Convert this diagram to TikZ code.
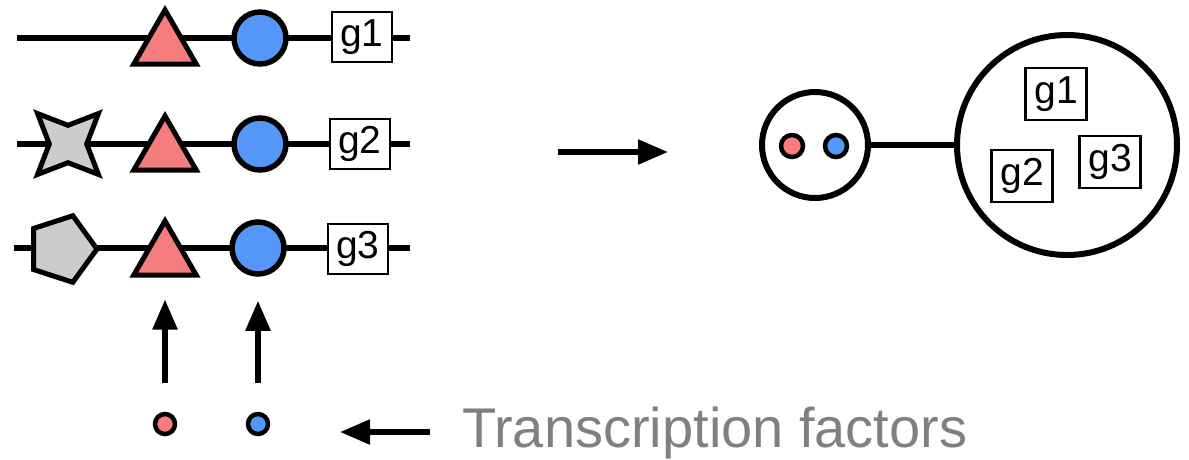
\documentclass[tikz,border=0pt]{standalone}
\usepackage{fontspec}
\setmainfont{Liberation Sans}
\usetikzlibrary{shapes.geometric,arrows.meta}
\definecolor{tfred}{RGB}{245,125,125}
\definecolor{tfblue}{RGB}{85,150,250}
\definecolor{shgray}{RGB}{204,204,204}
\definecolor{txtgray}{RGB}{128,128,128}
\begin{document}
\begin{tikzpicture}[x=1pt,y=-1pt,
  backbone/.style={line width=6pt},
  tri/.style={regular polygon, regular polygon sides=3, draw, line width=5pt, fill=tfred, minimum size=72pt, inner sep=0pt},
  bluecirc/.style={circle, draw, line width=5.5pt, fill=tfblue, minimum size=52pt, inner sep=0pt},
  starshape/.style={star, star points=4, star point ratio=2.3, shape border rotate=45, draw, line width=5pt, fill=shgray, minimum size=86pt, inner sep=0pt},
  pent/.style={regular polygon, regular polygon sides=5, shape border rotate=-90, draw, line width=5pt, fill=shgray, minimum size=70pt, inner sep=0pt},
  gene/.style={draw, line width=2.8pt, fill=white, minimum width=60pt, minimum height=50pt, inner sep=0pt, font=\fontsize{39}{39}\selectfont},
  hub/.style={circle, draw, line width=6pt, fill=white, inner sep=0pt},
  reddot/.style={circle, draw, line width=4.5pt, fill=tfred, inner sep=0pt},
  bluedot/.style={circle, draw, line width=4.5pt, fill=tfblue, inner sep=0pt},
  arr/.style={line width=5.5pt, -{Triangle[length=30pt,width=24pt]}}
]
\useasboundingbox (0,0) rectangle (1189,459);

% backbones
\coordinate (l1s) at (17,38);  \coordinate (l1e) at (410,38);
\coordinate (l2s) at (17,144); \coordinate (l2e) at (410,144);
\coordinate (l3s) at (14,248); \coordinate (l3e) at (410,248);
\draw[backbone] (l1s) -- (l1e);
\draw[backbone] (l2s) -- (l2e);
\draw[backbone] (l3s) -- (l3e);

% row 1
\node[tri] (tri1) at (165,46) {};
\node[bluecirc] (circ1) at (260,38) {};
\node[gene] (g1) at (362,37) {g1};
% row 2
\node[starshape] (star2) at (68,144) {};
\node[tri] (tri2) at (165,152) {};
\node[bluecirc] (circ2) at (260,144) {};
\node[gene] (g2) at (360,144) {g2};
% row 3
\node[pent] (pent3) at (62,249) {};
\node[tri] (tri3) at (165,257) {};
\node[bluecirc] (circ3) at (258,248) {};
\node[gene] (g3) at (358,249) {g3};

% transcription factors
\node[reddot, minimum size=20pt] (tfr) at (165,424) {};
\node[bluedot, minimum size=20pt] (tfb) at (258,424) {};
\draw[arr, shorten <=29pt, shorten >=22pt] (tfr) -- (tri3);
\draw[arr, shorten <=29pt, shorten >=24pt] (tfb) -- (circ3);

\node[anchor=base west, text=txtgray, font=\fontsize{56}{56}\selectfont, inner sep=0pt] (tflabel) at (462,447) {Transcription factors};
\coordinate (tfarrowend) at (340,432);
\draw[arr] (430,432) -- (tfarrowend);

% middle arrow
\coordinate (mas) at (558,152);
\coordinate (mae) at (668,152);
\draw[arr] (mas) -- (mae);

% right side
\node[hub, minimum size=106pt] (small) at (815,145) {};
\node[hub, minimum size=220pt] (big) at (1067,145) {};
\draw[line width=6pt] (small) -- (big);
\node[reddot, minimum size=22pt] (hr) at (792,146) {};
\node[bluedot, minimum size=22pt] (hb) at (836,146) {};
\node[gene, minimum width=61pt, minimum height=52pt] (rg1) at (1056,94) {g1};
\node[gene, minimum width=61pt, minimum height=52pt] (rg2) at (1022,176) {g2};
\node[gene, minimum width=61pt, minimum height=52pt] (rg3) at (1110,162) {g3};
\end{tikzpicture}
\end{document}
